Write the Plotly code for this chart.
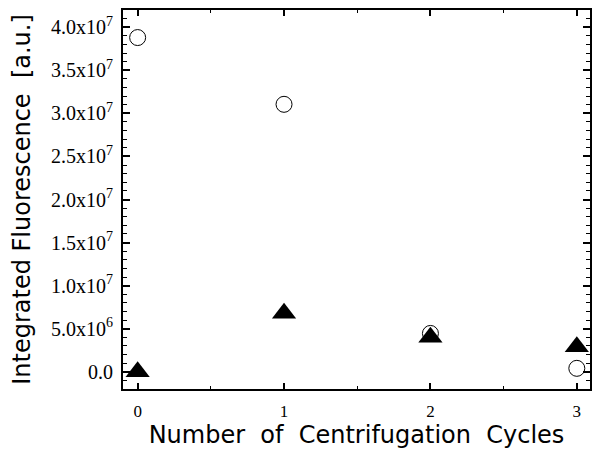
import plotly.graph_objects as go

cycles = [0, 1, 2, 3]
open_circles = [3.88e7, 3.105e7, 4.45e6, 0.4e6]
filled_triangles = [0.0, 6.8e6, 4.0e6, 2.9e6]

y_tickvals = [0, 5e6, 1e7, 1.5e7, 2e7, 2.5e7, 3e7, 3.5e7, 4e7]
y_ticktext = ["0.0", "5.0x10<sup>6</sup>", "1.0x10<sup>7</sup>", "1.5x10<sup>7</sup>",
              "2.0x10<sup>7</sup>", "2.5x10<sup>7</sup>", "3.0x10<sup>7</sup>",
              "3.5x10<sup>7</sup>", "4.0x10<sup>7</sup>"]
x_tickvals = [0, 1, 2, 3]

fig = go.Figure()
fig.add_trace(go.Scatter(
    x=cycles, y=open_circles, mode="markers",
    marker=dict(symbol="circle-open", size=16, color="black", line=dict(width=1)),
    showlegend=False,
))
fig.add_trace(go.Scatter(
    x=cycles, y=filled_triangles, mode="markers",
    marker=dict(symbol="triangle-up", size=21, color="black"),
    showlegend=False,
))

serif = "Liberation Serif, Times New Roman, serif"
sans = "DejaVu Sans, Arial, sans-serif"

# page body has an 8px margin, so the figure is 8px smaller on each side
fig.update_layout(
    width=592, height=450,
    margin=dict(l=115, r=10, t=2, b=69),
    paper_bgcolor="white", plot_bgcolor="white",
    showlegend=False,
)
fig.update_xaxes(
    range=[-0.1, 3.09], automargin=False,
    tickmode="array", tickvals=x_tickvals, ticktext=[str(v) for v in x_tickvals],
    ticks="inside", ticklen=6, tickwidth=1.5, tickcolor="black",
    minor=dict(ticks="inside", dtick=0.5, tick0=0, ticklen=3, tickwidth=1.2, tickcolor="black"),
    showline=True, linecolor="black", linewidth=2, mirror="allticks",
    showgrid=False, zeroline=False,
    ticklabelstandoff=6,
    tickfont=dict(family=serif, size=17, color="black"),
    title=dict(text="Number  of  Centrifugation  Cycles", standoff=2,
               font=dict(family=sans, size=24, color="black")),
)
fig.update_yaxes(
    range=[-2e6, 4.2e7], automargin=False,
    tickmode="array", tickvals=y_tickvals, ticktext=y_ticktext,
    ticks="inside", ticklen=7, tickwidth=1.5, tickcolor="black",
    minor=dict(ticks="inside", dtick=1e6, tick0=0, ticklen=4, tickwidth=1.2, tickcolor="black"),
    showline=True, linecolor="black", linewidth=2, mirror="allticks",
    showgrid=False, zeroline=False,
    ticklabelstandoff=4,
    tickfont=dict(family=serif, size=20, color="black"),
    title=dict(text="Integrated Fluorescence  [a.u.]", standoff=19,
               font=dict(family=sans, size=24, color="black")),
)

fig.write_html("out.html")
